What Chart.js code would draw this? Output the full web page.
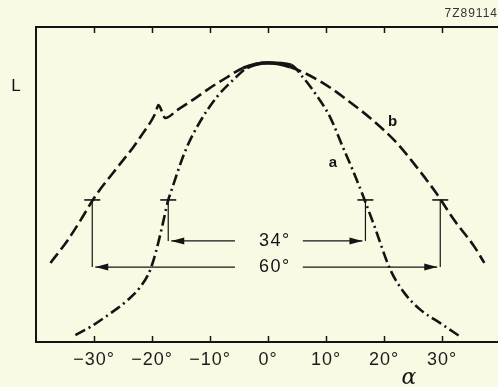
<!DOCTYPE html>
<html lang="es">
<head>
<meta charset="UTF-8">
<title>Diagrama de luminancia</title>
<script src="https://cdn.jsdelivr.net/npm/chart.js@4.4.0/dist/chart.umd.min.js"></script>
<style>
    html, body { margin: 0; padding: 0; background: #fafae4; overflow: hidden; }
    #contenedor { position: relative; width: 500px; height: 387px; }
</style>
</head>
<body>
<div id="contenedor"><canvas id="grafico" width="500" height="387"></canvas></div>
<script>
// Curva a (trazo-punto): ángulo en grados y L relativa
const angulosA = [-33.2, -30.6, -27.1, -24.2, -22.0, -20.3, -19.1, -18.0, -17.2, -16.8, -14.3, -11.7, -8.8, -6.0, -3.6, 0, 4.0, 6.0, 8.3, 10.7, 12.9, 14.6, 16.2, 18.4, 21.1, 23.5, 26.3, 29.7, 33.0];
const valoresA = [2.2, 4.8, 9.2, 13.3, 17.5, 22.9, 30.2, 38.7, 45.1, 47.3, 60.5, 70.0, 77.8, 83.2, 87.0, 88.6, 87.9, 84.1, 78.5, 71.4, 61.9, 54.6, 47.3, 36.5, 22.9, 15.6, 10.2, 6.0, 1.9];

// Curva b (discontinua)
const angulosB = [-37.5, -34.5, -32.3, -30.2, -29.4, -25.9, -23.2, -22.0, -19.4, -18.9, -17.7, -15.6, -12.2, -10.3, -7.0, -4.3, 0, 3.8, 9.5, 14.1, 18.0, 22.2, 25.6, 29.0, 32.1, 35.6, 37.3];
const valoresB = [25.1, 32.4, 38.7, 45.1, 47.3, 55.6, 61.9, 65.1, 72.7, 75.2, 71.1, 73.7, 77.8, 80.3, 84.1, 87.0, 88.6, 87.3, 82.2, 76.2, 70.5, 63.2, 55.6, 47.3, 38.7, 30.2, 25.1];

// Marcas del eje alfa
const ticksAlfa = [-30, -20, -10, 0, 10, 20, 30];

// Anchos a media altura (34° y 60°)
const limitesA = [-17.2, 16.8];
const limitesB = [-30.3, 29.7];
const textosAncho = ['34°', '60°'];
const nivelMedio = 45.1;
const nivelesFlecha = [32.1, 23.8];

const COLOR = '#141414';
const FUENTE = '"Liberation Sans", Arial, sans-serif';

// Tramo del pico donde las dos curvas se juntan en línea continua
function enPico(c) {
    return c.p0.parsed.x >= -4.5 && c.p1.parsed.x <= 4.6;
}

function flecha(ctx, desde, hasta, y) {
    ctx.beginPath();
    ctx.moveTo(desde, y);
    ctx.lineTo(hasta, y);
    ctx.stroke();
    const dir = Math.sign(hasta - desde);
    ctx.beginPath();
    ctx.moveTo(hasta, y);
    ctx.lineTo(hasta - dir * 13, y - 3.5);
    ctx.lineTo(hasta - dir * 13, y + 3.5);
    ctx.closePath();
    ctx.fill();
}

// Marco, ticks interiores, marcas de ancho y textos
const anotaciones = {
    id: 'anotaciones',
    beforeDraw(chart) {
        // letras algo más espaciadas en todo el gráfico
        chart.ctx.letterSpacing = '1px';
    },
    afterDraw(chart) {
        const { ctx, chartArea: area, scales: { x, y } } = chart;
        ctx.save();
        ctx.strokeStyle = COLOR;
        ctx.fillStyle = COLOR;

        // marco (el lado derecho queda fuera)
        ctx.lineWidth = 2;
        ctx.beginPath();
        ctx.moveTo(area.right + 5, area.top);
        ctx.lineTo(area.left, area.top);
        ctx.lineTo(area.left, area.bottom);
        ctx.lineTo(area.right + 5, area.bottom);
        ctx.stroke();

        // ticks hacia dentro, arriba y abajo
        ctx.lineWidth = 1.5;
        x.ticks.forEach(t => {
            const px = Math.round(x.getPixelForValue(t.value)) + 0.5;
            ctx.beginPath();
            ctx.moveTo(px, area.top);
            ctx.lineTo(px, area.top + 6);
            ctx.moveTo(px, area.bottom);
            ctx.lineTo(px, area.bottom - 6);
            ctx.stroke();
        });

        // marcas de media altura con líneas y flechas
        const yMedio = y.getPixelForValue(nivelMedio);
        const centroTexto = x.getPixelForValue(1.2);
        [limitesA, limitesB].forEach((lim, i) => {
            const yFlecha = y.getPixelForValue(nivelesFlecha[i]);
            lim.forEach((ang, lado) => {
                const px = x.getPixelForValue(ang);
                ctx.lineWidth = 1.6;
                ctx.beginPath();
                ctx.moveTo(px - 8, yMedio);
                ctx.lineTo(px + 8, yMedio);
                ctx.stroke();
                ctx.lineWidth = 1.2;
                ctx.beginPath();
                ctx.moveTo(px, yMedio);
                ctx.lineTo(px, yFlecha);
                ctx.stroke();
                const inicio = lado === 0 ? x.getPixelForValue(-5.7) : x.getPixelForValue(6.0);
                const fin = lado === 0 ? px + 3 : px - 3;
                flecha(ctx, inicio, fin, yFlecha);
            });
            ctx.font = '18px ' + FUENTE;
            ctx.letterSpacing = '1.5px';
            ctx.textAlign = 'center';
            ctx.textBaseline = 'middle';
            ctx.fillText(textosAncho[i], centroTexto, yFlecha);
        });

        // rótulos de las curvas
        ctx.letterSpacing = '0px';
        ctx.font = 'bold 15px ' + FUENTE;
        ctx.fillText('a', x.getPixelForValue(11.2), y.getPixelForValue(56.8));
        ctx.fillText('b', x.getPixelForValue(21.5), y.getPixelForValue(69.8));

        // títulos de los ejes y referencia
        ctx.font = '17px ' + FUENTE;
        ctx.fillText('L', 16, 86);
        ctx.font = 'italic 22px "DejaVu Serif", serif';
        ctx.fillText('α', 409, 378);
        ctx.font = '12px ' + FUENTE;
        ctx.letterSpacing = '1px';
        ctx.fillStyle = '#333';
        ctx.textAlign = 'right';
        ctx.fillText('7Z89114', 498, 14);
        ctx.restore();
    }
};

const ctx = document.getElementById('grafico').getContext('2d');
new Chart(ctx, {
    type: 'line',
    data: {
        datasets: [
            {
                label: 'a',
                data: angulosA.map((a, i) => ({ x: a, y: valoresA[i] })),
                borderColor: COLOR,
                borderWidth: 2.6,
                borderDash: [11, 4, 2, 4],
                pointRadius: 0,
                cubicInterpolationMode: 'monotone',
                segment: {
                    borderDash: c => enPico(c) ? [] : undefined,
                    borderWidth: c => enPico(c) ? 3.2 : undefined
                }
            },
            {
                label: 'b',
                data: angulosB.map((a, i) => ({ x: a, y: valoresB[i] })),
                borderColor: COLOR,
                borderWidth: 2.6,
                borderDash: [12, 5],
                pointRadius: 0,
                cubicInterpolationMode: 'monotone',
                segment: {
                    borderDash: c => enPico(c) ? [] : undefined,
                    borderWidth: c => enPico(c) ? 3.2 : undefined
                }
            }
        ]
    },
    options: {
        responsive: false,
        animation: false,
        devicePixelRatio: 1,
        layout: { padding: { left: 36, top: 27, right: 0, bottom: 0 } },
        plugins: {
            legend: { display: false },
            tooltip: { enabled: false }
        },
        scales: {
            x: {
                type: 'linear',
                min: -40,
                max: 40,
                afterFit(scale) { scale.height = 45; },
                afterBuildTicks(scale) { scale.ticks = ticksAlfa.map(v => ({ value: v })); },
                grid: { display: false, drawTicks: false },
                border: { display: false },
                ticks: {
                    color: '#1c1c1c',
                    font: { family: FUENTE, size: 18 },
                    padding: 7,
                    maxRotation: 0,
                    autoSkip: false,
                    callback: v => (v < 0 ? '\u2212' : '') + Math.abs(v) + '°'
                }
            },
            y: {
                display: false,
                min: 0,
                max: 100
            }
        }
    },
    plugins: [anotaciones]
});
</script>
</body>
</html>
